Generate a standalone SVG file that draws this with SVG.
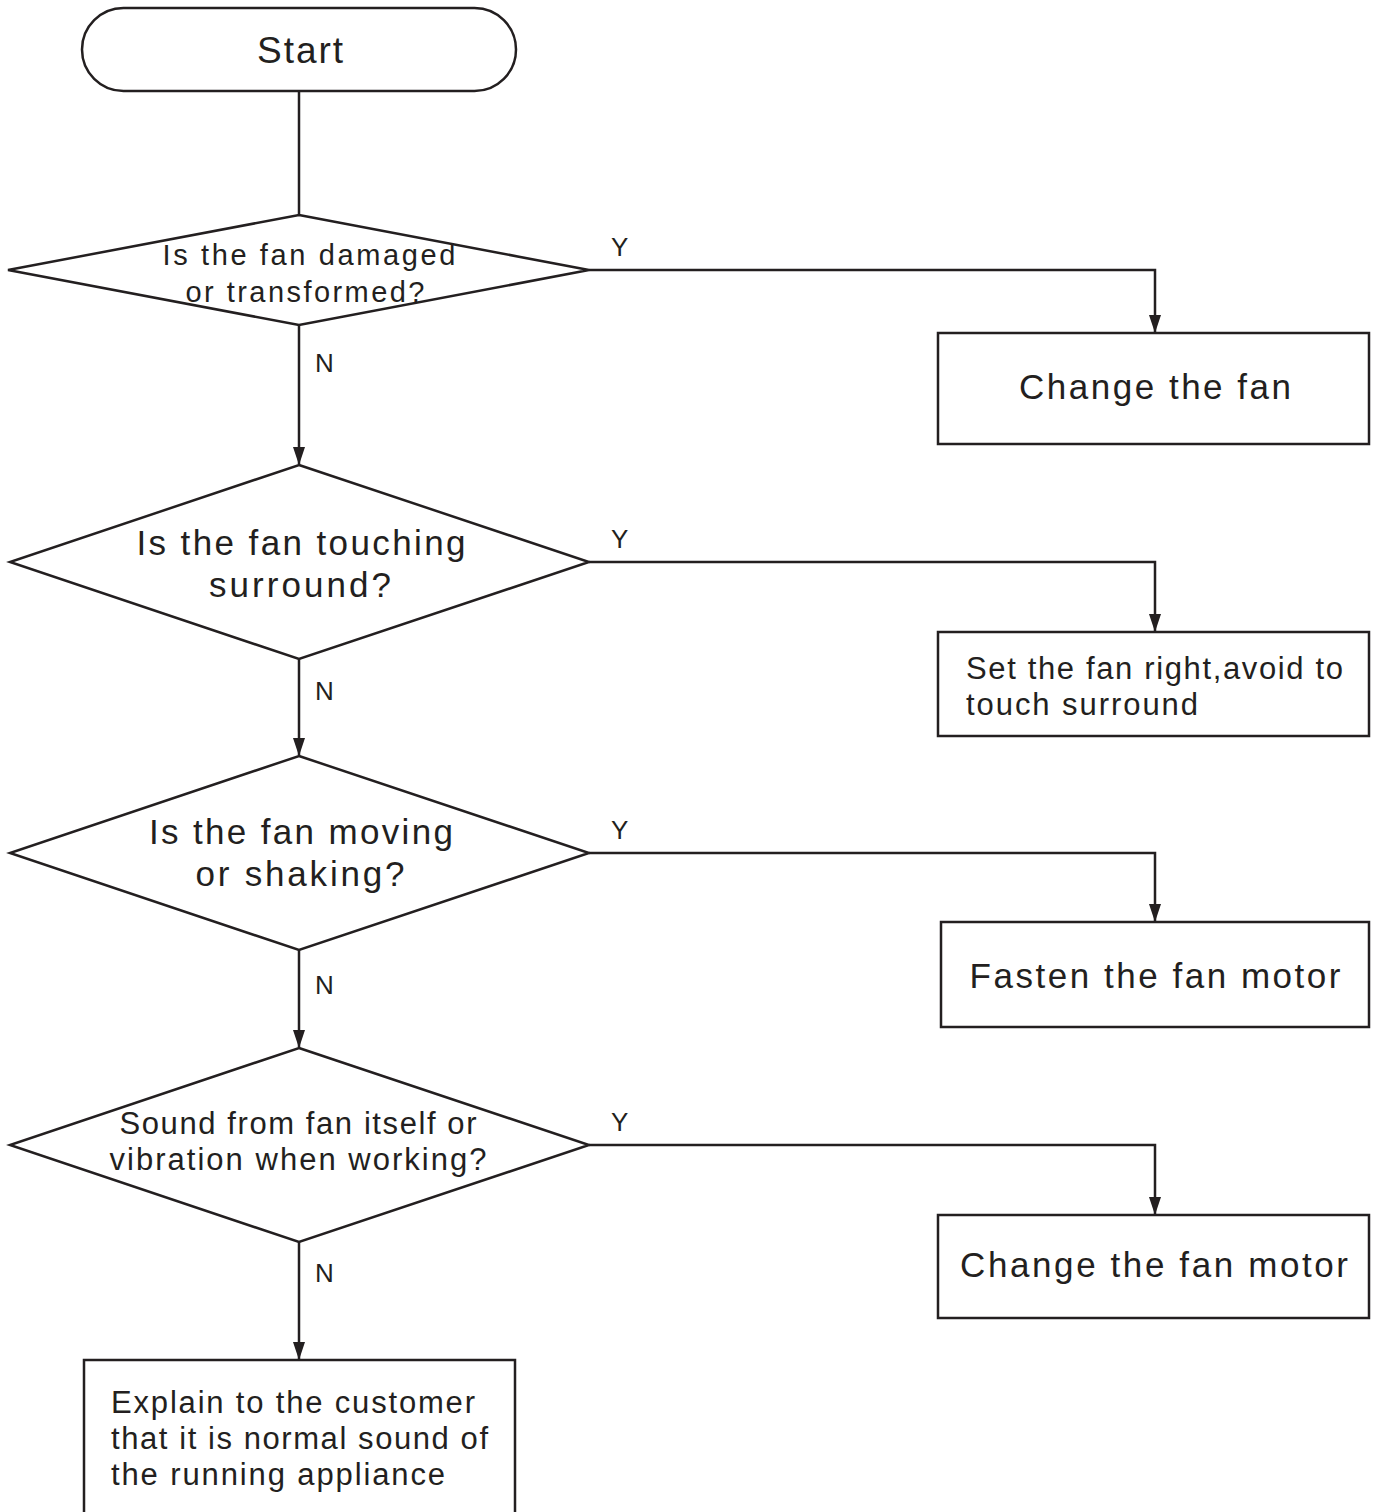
<svg xmlns="http://www.w3.org/2000/svg" width="1376" height="1512" viewBox="0 0 1376 1512">
<style>
.s{fill:#fff;stroke:#231f20;stroke-width:2.5}
.c{fill:none;stroke:#231f20;stroke-width:2.5}
text{font-family:"Liberation Sans",Arial,sans-serif;fill:#231f20}
.m{text-anchor:middle}
.l{font-size:26px}
</style>
<defs>
<marker id="ad" markerWidth="12" markerHeight="18" refX="6" refY="17" orient="0" markerUnits="userSpaceOnUse" viewBox="0 0 12 18">
<path d="M0,0 L12,0 L6,18 Z" fill="#231f20"/>
</marker>
</defs>
<g id="connectors">
<path class="c" d="M299,91 V215"/>
<path class="c" d="M589,270 H1155 V332" marker-end="url(#ad)"/>
<path class="c" d="M299,325 V464" marker-end="url(#ad)"/>
<path class="c" d="M589,562 H1155 V631" marker-end="url(#ad)"/>
<path class="c" d="M299,659 V755" marker-end="url(#ad)"/>
<path class="c" d="M589,853 H1155 V921" marker-end="url(#ad)"/>
<path class="c" d="M299,950 V1047" marker-end="url(#ad)"/>
<path class="c" d="M589,1145 H1155 V1214" marker-end="url(#ad)"/>
<path class="c" d="M299,1242 V1359" marker-end="url(#ad)"/>
<text class="l" x="611" y="256">Y</text>
<text class="l" x="611" y="548">Y</text>
<text class="l" x="611" y="839">Y</text>
<text class="l" x="611" y="1131">Y</text>
<text class="l" x="315" y="372">N</text>
<text class="l" x="315" y="700">N</text>
<text class="l" x="315" y="994">N</text>
<text class="l" x="315" y="1282">N</text>
</g>
<g id="start">
<rect class="s" x="82" y="8" width="434" height="83" rx="41.5" ry="41.5"/>
<text class="m" x="300" y="63" font-size="37" textLength="86" lengthAdjust="spacing">Start</text>
</g>
<g id="d1">
<polygon class="s" points="299,215 589,270 299,325 8,270"/>
<text class="m" x="309" y="265" font-size="29" textLength="293" lengthAdjust="spacing">Is the fan damaged</text>
<text class="m" x="305" y="302" font-size="29" textLength="239" lengthAdjust="spacing">or transformed?</text>
</g>
<g id="b1">
<rect class="s" x="938" y="333" width="431" height="111"/>
<text class="m" x="1155" y="399" font-size="35" textLength="272" lengthAdjust="spacing">Change the fan</text>
</g>
<g id="d2">
<polygon class="s" points="299,465 589,562 299,659 10,562"/>
<text class="m" x="301" y="555" font-size="35" textLength="329" lengthAdjust="spacing">Is the fan touching</text>
<text class="m" x="300" y="597" font-size="35" textLength="182" lengthAdjust="spacing">surround?</text>
</g>
<g id="b2">
<rect class="s" x="938" y="632" width="431" height="104"/>
<text x="966" y="679" font-size="31" textLength="377" lengthAdjust="spacing">Set the fan right,avoid to</text>
<text x="966" y="715" font-size="31" textLength="232" lengthAdjust="spacing">touch surround</text>
</g>
<g id="d3">
<polygon class="s" points="299,756 589,853 299,950 10,853"/>
<text class="m" x="301" y="844" font-size="35" textLength="304" lengthAdjust="spacing">Is the fan moving</text>
<text class="m" x="300" y="886" font-size="35" textLength="209" lengthAdjust="spacing">or shaking?</text>
</g>
<g id="b3">
<rect class="s" x="941" y="922" width="428" height="105"/>
<text class="m" x="1155" y="988" font-size="35" textLength="371" lengthAdjust="spacing">Fasten the fan motor</text>
</g>
<g id="d4">
<polygon class="s" points="299,1048 589,1145 299,1242 10,1145"/>
<text class="m" x="298" y="1134" font-size="31" textLength="357" lengthAdjust="spacing">Sound from fan itself or</text>
<text class="m" x="298" y="1170" font-size="31" textLength="377" lengthAdjust="spacing">vibration when working?</text>
</g>
<g id="b4">
<rect class="s" x="938" y="1215" width="431" height="103"/>
<text class="m" x="1154" y="1277" font-size="35" textLength="388" lengthAdjust="spacing">Change the fan motor</text>
</g>
<g id="b5">
<rect class="s" x="84" y="1360" width="431" height="160"/>
<text x="111" y="1413" font-size="31" textLength="364" lengthAdjust="spacing">Explain to the customer</text>
<text x="111" y="1449" font-size="31" textLength="377" lengthAdjust="spacing">that it is normal sound of</text>
<text x="111" y="1485" font-size="31" textLength="334" lengthAdjust="spacing">the running appliance</text>
</g>
</svg>
